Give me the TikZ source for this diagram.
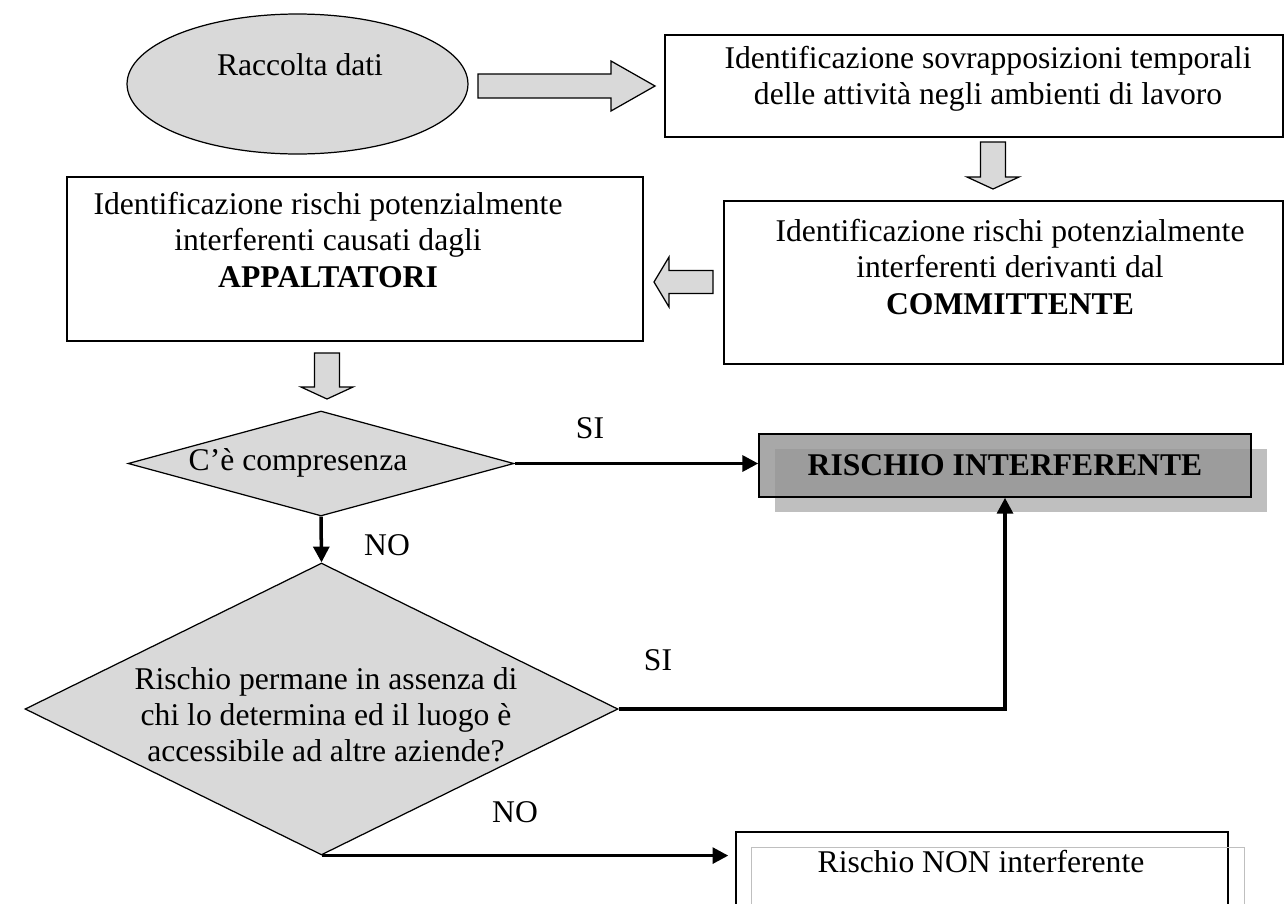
\documentclass[tikz,border=0pt]{standalone}
\usepackage{fontspec}
\setmainfont{Liberation Serif}
\usetikzlibrary{shapes.geometric, arrows.meta, shadows, positioning}

\begin{document}
\begin{tikzpicture}[x=0.02cm, y=-0.02cm, >={Triangle[length=9pt,width=9pt]},
  font=\fontsize{18}{20.5}\selectfont,
  box/.style={draw, line width=0.8pt, inner sep=0pt},
  txt/.style={align=center, inner sep=0pt},
  blk/.style={draw, line width=0.7pt, fill=black!15, line join=miter},
  dec/.style={diamond, draw, line width=0.7pt, fill=black!15, inner sep=0pt},
  link/.style={->, line width=2pt},
  lab/.style={inner sep=0pt}]
\useasboundingbox (0,0) rectangle (1287,903);
\node[ellipse, draw, line width=0.7pt, fill=black!15, minimum width=6.82cm, minimum height=2.8cm] (dati) at (297.5,84) {};
\node[txt] (dati-t) at (300,65) {Raccolta dati};
\draw[blk] (478,74)--(611,74)--(611,61)--(655,86)--(611,111)--(611,98)--(478,98)--cycle;
\node[box, minimum width=12.36cm, minimum height=2.04cm] (sovr) at (974,86) {};
\node[txt] (sovr-t) at (988,79) {Identificazione sovrapposizioni temporali\\delle attività negli ambienti di lavoro};
\draw[blk] (980.5,142)--(980.5,177)--(967,177)--(993,189)--(1019,177)--(1005.5,177)--(1005.5,142)--cycle;
\node[box, minimum width=11.18cm, minimum height=3.26cm] (comm) at (1003.5,282.5) {};
\node[txt] (comm-t) at (1010,267) {Identificazione rischi potenzialmente\\interferenti derivanti dal\\\textbf{COMMITTENTE}};
\draw[blk] (713,270.5)--(669,270.5)--(669,257)--(654,282)--(669,307)--(669,293.5)--(713,293.5)--cycle;
\node[box, minimum width=11.52cm, minimum height=3.28cm] (appa) at (355,259) {};
\node[txt] (appa-t) at (328,240) {Identificazione rischi potenzialmente\\interferenti causati dagli\\\textbf{APPALTATORI}};
\draw[blk] (314.5,353)--(314.5,387)--(301,387)--(327,399)--(353,387)--(339.5,387)--(339.5,353)--cycle;
\node[dec, minimum width=7.72cm, minimum height=2.1cm] (comp) at (321,463.5) {};
\node[txt] (comp-t) at (298,463) {C’è compresenza};
\node[box, line width=0.9pt, fill=black!41, fill opacity=0.83, text opacity=1, minimum width=9.84cm, minimum height=1.26cm,
  drop shadow={shadow xshift=0.32cm, shadow yshift=-0.3cm, fill=black!25, opacity=1}] (interf) at (1005,465.5) {\textbf{RISCHIO INTERFERENTE}};
\node[dec, minimum width=11.86cm, minimum height=5.84cm] (perm) at (321.5,709) {};
\node[txt] (perm-t) at (326,714.5) {Rischio permane in assenza di\\chi lo determina ed il luogo è\\accessibile ad altre aziende?};
\node[box, minimum width=9.84cm, minimum height=1.64cm] (nonint) at (982,873) {};
\draw[black!25, line width=0.8pt] ([shift={(16,16)}]nonint.south west) rectangle ([shift={(16,16)}]nonint.north east);
\node[txt] (nonint-t) at (981,862) {Rischio NON interferente};
\draw[link] (comp.east) -- (comp.east -| interf.west);
\draw[link] (comp.south) -- (perm.north);
\draw[link] (perm.east) -| (interf.south);
\draw[link, shorten >=4pt] (perm.south) -- (perm.south -| nonint.west);
\node[lab] (si1) at (590,428) {SI};
\node[lab] (no1) at (387,545) {NO};
\node[lab] (si2) at (658,660) {SI};
\node[lab] (no2) at (515,812) {NO};
\end{tikzpicture}
\end{document}
